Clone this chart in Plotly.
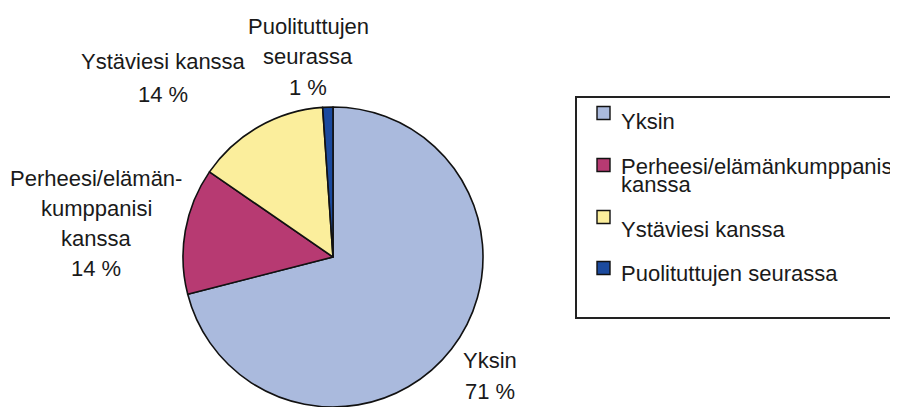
import plotly.graph_objects as go

W, H = 898, 407
OFF = 8  # page body margin offset of the rendered figure

categories = ["Yksin", "Perheesi/elämänkumppanisi kanssa", "Ystäviesi kanssa", "Puolituttujen seurassa"]
values = [71.0, 13.6, 14.3, 1.1]
pct_labels = ["71 %", "14 %", "14 %", "1 %"]
colors = ["#AABADD", "#B73A72", "#FBEE9C", "#1B4A9E"]

# slice label lines (as broken in the original)
slice_label_lines = [["Yksin"], ["Perheesi/elämän-", "kumppanisi", "kanssa"], ["Ystäviesi kanssa"], ["Puolituttujen", "seurassa"]]
# legend text lines
legend_lines = [["Yksin"], ["Perheesi/elämänkumppanisi", "kanssa"], ["Ystäviesi kanssa"], ["Puolituttujen seurassa"]]

FONT = "Liberation Sans, Arial, sans-serif"
TXT = "#1a1a1a"


def px(x):
    return (x - OFF) / W


def py(y):
    return 1 - (y - OFF) / H


fig = go.Figure()
fig.add_trace(go.Pie(
    labels=categories,
    values=values,
    sort=False,
    direction="clockwise",
    rotation=0,
    marker=dict(colors=colors, line=dict(color="#111111", width=1.6)),
    textinfo="none",
    showlegend=False,
    domain=dict(x=[px(183), px(483)], y=[py(407), py(107)]),
))

annotations = []
shapes = []

# slice labels: (center x, y of first line, line spacing)
label_pos = [(490, 360, 31), (96, 178, 30), (163, 62, 33), (308, 26, 31)]
for lines, pct, (cx, y0, dy) in zip(slice_label_lines, pct_labels, label_pos):
    for i, t in enumerate(lines + [pct]):
        annotations.append(dict(
            text=t, x=px(cx), y=py(y0 + i * dy), xref="paper", yref="paper",
            xanchor="center", yanchor="middle", showarrow=False,
            font=dict(family=FONT, size=22, color=TXT),
        ))

# legend box
shapes.append(dict(type="rect", xref="paper", yref="paper",
                   x0=px(576), x1=px(940), y0=py(318), y1=py(97),
                   line=dict(color="#222222", width=2), fillcolor="white", layer="below"))

# legend entries: (square center y, text first line y)
leg_pos = [(113, 121), (165, 166), (217, 229), (268, 273)]
for lines, col, (sy, ty) in zip(legend_lines, colors, leg_pos):
    shapes.append(dict(type="rect", xref="paper", yref="paper",
                       x0=px(597), x1=px(610), y0=py(sy + 6.5), y1=py(sy - 6.5),
                       line=dict(color="#111111", width=1.4), fillcolor=col))
    for i, t in enumerate(lines):
        annotations.append(dict(
            text=t, x=px(619), y=py(ty + i * 18), xref="paper", yref="paper",
            xanchor="left", yanchor="middle", showarrow=False,
            font=dict(family=FONT, size=22, color=TXT),
        ))

fig.update_layout(
    width=W, height=H,
    margin=dict(l=0, r=0, t=0, b=0),
    paper_bgcolor="white", plot_bgcolor="white",
    annotations=annotations,
    shapes=shapes,
    showlegend=False,
)

fig.write_html("out.html")
